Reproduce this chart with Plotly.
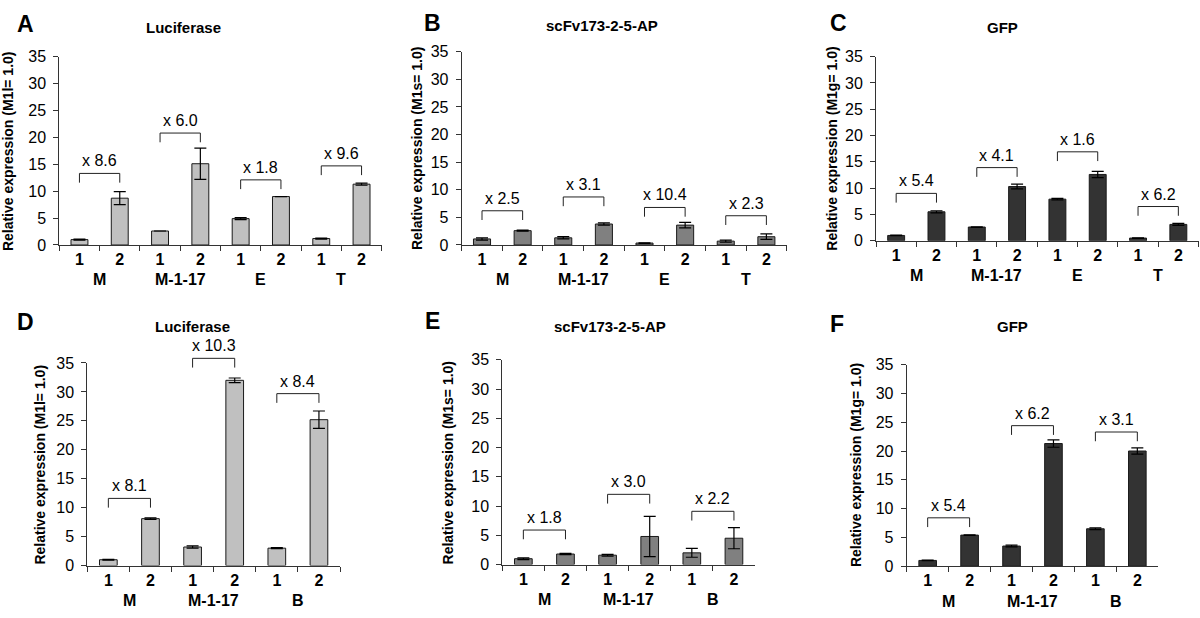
import plotly.graph_objects as go

W, H = 1200, 618

# ---------------- data ----------------
subs = ["1", "2"]
groups_top = ["M", "M-1-17", "E", "T"]
groups_bot = ["M", "M-1-17", "B"]

# Panel A - Luciferase
lucA_vals = [1.0, 8.7, 2.6, 15.1, 4.9, 9.0, 1.2, 11.3]
lucA_errs = [0.1, 1.2, 0.0, 2.9, 0.2, 0.0, 0.1, 0.2]
lucA_ratio = ["x 8.6", "x 6.0", "x 1.8", "x 9.6"]
lucA_brk = [13.3, 20.8, 12.1, 14.7]

# Panel B - scFv173-2-5-AP
scfB_vals = [1.1, 2.6, 1.3, 3.8, 0.35, 3.6, 0.7, 1.5]
scfB_errs = [0.2, 0.1, 0.2, 0.2, 0.05, 0.5, 0.2, 0.5]
scfB_ratio = ["x 2.5", "x 3.1", "x 10.4", "x 2.3"]
scfB_brk = [6.2, 8.7, 6.8, 5.3]

# Panel C - GFP
gfpC_vals = [1.0, 5.5, 2.6, 10.3, 7.9, 12.6, 0.5, 3.1]
gfpC_errs = [0.05, 0.2, 0.05, 0.45, 0.15, 0.6, 0.05, 0.2]
gfpC_ratio = ["x 5.4", "x 4.1", "x 1.6", "x 6.2"]
gfpC_brk = [9.0, 13.9, 16.9, 6.5]

# Panel D - Luciferase
lucD_vals = [1.0, 8.1, 3.2, 32.0, 3.0, 25.2]
lucD_errs = [0.05, 0.15, 0.2, 0.4, 0.1, 1.5]
lucD_ratio = ["x 8.1", "x 10.3", "x 8.4"]
lucD_brk = [11.6, 35.8, 29.7]

# Panel E - scFv173-2-5-AP
scfE_vals = [1.0, 1.8, 1.6, 4.8, 2.0, 4.5]
scfE_errs = [0.15, 0.1, 0.15, 3.45, 0.75, 1.8]
scfE_ratio = ["x 1.8", "x 3.0", "x 2.2"]
scfE_brk = [5.9, 12.0, 9.1]

# Panel F - GFP
gfpF_vals = [1.0, 5.4, 3.5, 21.3, 6.5, 20.0]
gfpF_errs = [0.05, 0.05, 0.15, 0.65, 0.15, 0.55]
gfpF_ratio = ["x 5.4", "x 6.2", "x 3.1"]
gfpF_brk = [8.4, 24.4, 23.3]

y_ticks = [0, 5, 10, 15, 20, 25, 30, 35]

# ---------------- layout config (pixel positions) ----------------
LIGHT, MID, DARK = "#c0c0c0", "#808080", "#333333"
panels = [
    dict(letter="A", title="Luciferase", ylab="Relative expression (M1l= 1.0)", groups=groups_top,
         vals=lucA_vals, errs=lucA_errs, ratio=lucA_ratio, brk=lucA_brk, color=LIGHT,
         box=(59.3, 381.7, 50, 243.7), title_xy=(183, 20), letter_xy=(25, 16), yt_off=51),
    dict(letter="B", title="scFv173-2-5-AP", ylab="Relative expression (M1s= 1.0)", groups=groups_top,
         vals=scfB_vals, errs=scfB_errs, ratio=scfB_ratio, brk=scfB_brk, color=MID,
         box=(461.7, 786.7, 45, 243.7), title_xy=(602, 18), letter_xy=(432, 15), yt_off=44),
    dict(letter="C", title="GFP", ylab="Relative expression (M1g= 1.0)", groups=groups_top,
         vals=gfpC_vals, errs=gfpC_errs, ratio=gfpC_ratio, brk=gfpC_brk, color=DARK,
         box=(876, 1198.5, 50, 239.3), title_xy=(1002, 20), letter_xy=(838, 15), yt_off=44),
    dict(letter="D", title="Luciferase", ylab="Relative expression (M1l= 1.0)", groups=groups_bot,
         vals=lucD_vals, errs=lucD_errs, ratio=lucD_ratio, brk=lucD_brk, color=LIGHT,
         box=(87.3, 340, 365, 573.3), title_xy=(192, 327), letter_xy=(25, 323), yt_off=47),
    dict(letter="E", title="scFv173-2-5-AP", ylab="Relative expression (M1s= 1.0)", groups=groups_bot,
         vals=scfE_vals, errs=scfE_errs, ratio=scfE_ratio, brk=scfE_brk, color=MID,
         box=(502.3, 755, 361.7, 572.3), title_xy=(610, 328), letter_xy=(432, 322), yt_off=54),
    dict(letter="F", title="GFP", ylab="Relative expression (M1g= 1.0)", groups=groups_bot,
         vals=gfpF_vals, errs=gfpF_errs, ratio=gfpF_ratio, brk=gfpF_brk, color=DARK,
         box=(906.7, 1158.3, 366.7, 574), title_xy=(1012, 328), letter_xy=(837, 325), yt_off=50),
]

FONT = "Liberation Sans, Arial, Helvetica, sans-serif"
AX = "#333333"
YMAX = 35

fig = go.Figure()
annotations = []
shapes = []

for k, p in enumerate(panels, start=1):
    xa = "x" if k == 1 else f"x{k}"
    ya = "y" if k == 1 else f"y{k}"
    cats = [f"{g}|{s}" for g in p["groups"] for s in subs]
    labels = [f"<b>{s}</b>" for g in p["groups"] for s in subs]
    n = len(cats)
    r0, r1 = -0.5, n - 0.5

    fig.add_trace(go.Bar(
        x=cats, y=p["vals"], width=0.42,
        marker=dict(color=p["color"], line=dict(color="#1a1a1a", width=1)),
        error_y=dict(type="data", array=p["errs"], color="black", thickness=1.2, width=6),
        xaxis=xa, yaxis=ya, showlegend=False, hoverinfo="y",
    ))

    x0, x1, y0, y1 = p["box"]
    fig.layout[("xaxis" if k == 1 else f"xaxis{k}")] = dict(
        domain=[x0 / W, x1 / W], anchor=ya, type="category",
        categoryorder="array", categoryarray=cats,
        tickmode="array", tickvals=cats, ticktext=labels, tickson="boundaries",
        ticks="outside", ticklen=5, tickcolor=AX, tickwidth=1,
        showline=True, linecolor=AX, linewidth=1, showgrid=False, zeroline=False,
        range=[r0, r1], tickfont=dict(family=FONT, size=16, color="black"),
        fixedrange=True,
    )
    fig.layout[("yaxis" if k == 1 else f"yaxis{k}")] = dict(
        domain=[1 - y1 / H, 1 - y0 / H], anchor=xa, range=[0, YMAX],
        tickmode="array", tickvals=y_ticks, ticks="outside", ticklen=5, tickcolor=AX,
        tickwidth=1, showline=True, linecolor=AX, linewidth=1, showgrid=False,
        zeroline=False, tickfont=dict(family=FONT, size=16, color="black"),
        ticklabelstandoff=4, fixedrange=True,
    )

    plot_h = y1 - y0
    leg = 9.5 / plot_h

    def xd(i):
        return (i - r0) / (r1 - r0)

    for j, g in enumerate(p["groups"]):
        # group label
        annotations.append(dict(
            xref=xa, yref=f"{ya} domain", x=2 * j + 0.5, y=0, yshift=-35,
            text=f"<b>{g}</b>", showarrow=False, yanchor="middle",
            font=dict(family=FONT, size=16, color="black")))
        # bracket
        xl, xr = xd(2 * j), xd(2 * j + 1)
        yb = p["brk"][j] / YMAX
        for (ax0, ay0, ax1, ay1) in [(xl, yb - leg, xl, yb), (xl, yb, xr, yb), (xr, yb, xr, yb - leg)]:
            shapes.append(dict(type="line", xref=f"{xa} domain", yref=f"{ya} domain",
                               x0=ax0, y0=ay0, x1=ax1, y1=ay1,
                               line=dict(color="#222222", width=1)))
        annotations.append(dict(
            xref=f"{xa} domain", yref=f"{ya} domain", x=(xl + xr) / 2, y=yb, yshift=2,
            text=p["ratio"][j], showarrow=False, yanchor="bottom", xanchor="center",
            font=dict(family=FONT, size=16, color="black")))

    # y axis title
    annotations.append(dict(
        xref=f"{xa} domain", yref=f"{ya} domain", x=0, xshift=-p["yt_off"], y=0.5,
        text=f"<b>{p['ylab']}</b>", textangle=-90, showarrow=False,
        xanchor="center", yanchor="middle",
        font=dict(family=FONT, size=14, color="black")))
    # panel title
    tx, ty = p["title_xy"]
    annotations.append(dict(
        xref="paper", yref="paper", x=tx / W, y=1 - ty / H, text=f"<b>{p['title']}</b>",
        showarrow=False, xanchor="center", yanchor="middle",
        font=dict(family=FONT, size=15, color="black")))
    # panel letter
    lx, ly = p["letter_xy"]
    annotations.append(dict(
        xref="paper", yref="paper", x=lx / W, y=1 - ly / H, text=f"<b>{p['letter']}</b>",
        showarrow=False, xanchor="center", yanchor="middle",
        font=dict(family=FONT, size=23, color="black")))

fig.update_layout(
    width=W, height=H, margin=dict(l=0, r=0, t=0, b=0),
    paper_bgcolor="white", plot_bgcolor="white",
    annotations=annotations, shapes=shapes, showlegend=False,
)

fig.write_html(
    "out.html",
    config={"displayModeBar": False},
    post_script="document.body.style.margin='0';document.body.style.overflow='hidden';",
)
